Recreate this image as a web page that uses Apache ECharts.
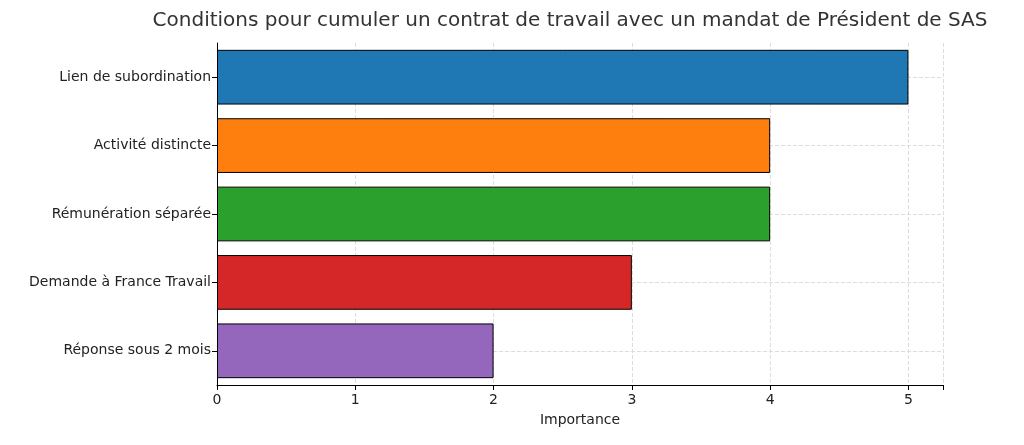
<!DOCTYPE html>
<html><head><meta charset="utf-8">
<script src="https://cdn.jsdelivr.net/npm/echarts@6/dist/echarts.min.js"></script>
<style>html,body{margin:0;padding:0;background:#fff}#c{width:1024px;height:445px}</style>
</head><body><div id="c"></div>
<script>
const categories = ["Lien de subordination","Activité distincte","Rémunération séparée","Demande à France Travail","Réponse sous 2 mois"];
const values = [5,4,4,3,2];
const colors = ["#1f77b4","#ff7f0e","#2ca02c","#d62728","#9467bd"];
const xTicks = [0,1,2,3,4,5];
const chart = echarts.init(document.getElementById('c'));
const font = "DejaVu Sans";
chart.setOption({
  animation:false,
  textStyle:{fontFamily:font},
  title:{text:"Conditions pour cumuler un contrat de travail avec un mandat de Président de SAS",left:565,textAlign:'center',top:6,textStyle:{fontFamily:font,fontSize:20,fontWeight:'normal',color:'#333'}},
  grid:{left:217,right:81,top:43,bottom:60},
  xAxis:{type:'value',min:0,max:5.25,interval:1,name:'Importance',nameLocation:'middle',nameGap:28,
    nameTextStyle:{fontFamily:font,fontSize:14,color:'#222'},
    axisLine:{show:true,lineStyle:{color:'#000'}},axisTick:{show:true,length:5,lineStyle:{color:'#000'}},
    axisLabel:{fontFamily:font,fontSize:14,color:'#222',formatter:v=>xTicks.includes(v)?String(v):''},
    splitLine:{show:true,lineStyle:{type:'dashed',color:'#ddd'}}},
  yAxis:{type:'category',inverse:true,data:categories,
    axisLine:{show:true,lineStyle:{color:'#000'}},axisTick:{show:true,alignWithLabel:true,length:5,lineStyle:{color:'#000'}},
    axisLabel:{fontFamily:font,fontSize:14,color:'#222',margin:6},splitLine:{show:false}},
  series:[{type:'bar',barWidth:'80%',
    data:values.map((v,i)=>({value:v,itemStyle:{color:colors[i],borderColor:'#000',borderWidth:1}})),
    markLine:{silent:true,symbol:'none',label:{show:false},z:0,lineStyle:{type:'dashed',color:'#ddd',width:1},
      data:categories.map(c=>({yAxis:c}))}}]
});
</script></body></html>
